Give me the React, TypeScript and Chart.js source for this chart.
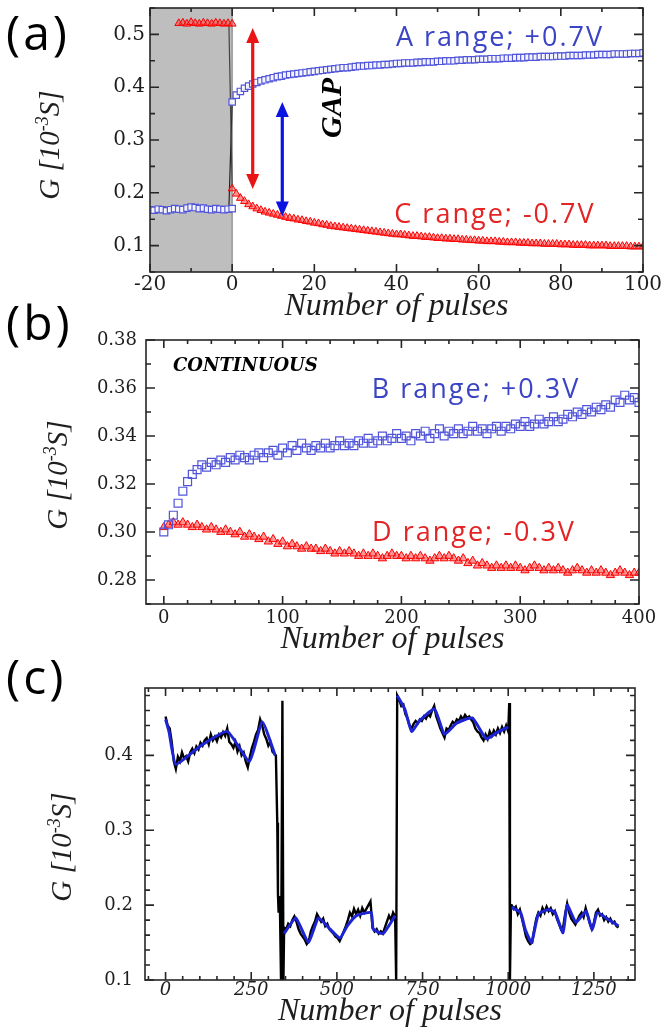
import React, { useEffect, useRef } from 'react';
import { Chart, registerables } from 'chart.js';

Chart.register(...registerables);

// ---------------- Panel (a) data ----------------
const A_BLUE_PRE_START = -20; // pulses -20 .. 0
const A_BLUE_PRE = [0.168, 0.167, 0.169, 0.168, 0.166, 0.168, 0.17, 0.169, 0.168, 0.171, 0.173, 0.172, 0.17, 0.171, 0.169, 0.168, 0.17, 0.169, 0.168, 0.169, 0.17];
const A_RED_PRE_START = -13; // pulses -13 .. 0
const A_RED_PRE = [0.521, 0.522, 0.52, 0.523, 0.521, 0.52, 0.522, 0.521, 0.52, 0.522, 0.521, 0.52, 0.521, 0.52];
const A_POST_START = 0; // pulses 0 .. 100
const A_BLUE = [
  0.372, 0.385, 0.392, 0.398, 0.402, 0.406, 0.409, 0.412, 0.414, 0.416,
  0.418, 0.42, 0.421, 0.423, 0.424, 0.425, 0.426, 0.427, 0.428, 0.429,
  0.43, 0.431, 0.432, 0.433, 0.434, 0.435, 0.436, 0.437, 0.437, 0.438,
  0.439, 0.44, 0.44, 0.441, 0.441, 0.442, 0.442, 0.443, 0.443, 0.444,
  0.445, 0.445, 0.446, 0.446, 0.446, 0.447, 0.447, 0.448, 0.448, 0.448,
  0.449, 0.449, 0.45, 0.45, 0.45, 0.451, 0.451, 0.452, 0.452, 0.452,
  0.453, 0.453, 0.453, 0.454, 0.454, 0.454, 0.455, 0.455, 0.455, 0.456,
  0.456, 0.456, 0.457, 0.457, 0.457, 0.458, 0.458, 0.458, 0.458, 0.459,
  0.459, 0.459, 0.46, 0.46, 0.46, 0.46, 0.461, 0.461, 0.461, 0.462,
  0.462, 0.462, 0.462, 0.463, 0.463, 0.463, 0.463, 0.464, 0.464, 0.464, 0.465,
];
const A_RED = [
  0.208, 0.198, 0.19, 0.184, 0.178, 0.174, 0.17, 0.167, 0.164, 0.162,
  0.16, 0.158, 0.156, 0.154, 0.152, 0.151, 0.149, 0.148, 0.146, 0.145,
  0.143, 0.142, 0.14, 0.139, 0.137, 0.136, 0.135, 0.134, 0.133, 0.132,
  0.131, 0.13, 0.129, 0.128, 0.127, 0.126, 0.125, 0.124, 0.123, 0.122,
  0.121, 0.121, 0.12, 0.119, 0.118, 0.118, 0.117, 0.116, 0.116, 0.115,
  0.114, 0.114, 0.113, 0.113, 0.112, 0.112, 0.111, 0.111, 0.11, 0.11,
  0.109, 0.109, 0.108, 0.108, 0.108, 0.107, 0.107, 0.106, 0.106, 0.106,
  0.105, 0.105, 0.105, 0.104, 0.104, 0.104, 0.103, 0.103, 0.103, 0.103,
  0.102, 0.102, 0.102, 0.101, 0.101, 0.101, 0.101, 0.1, 0.1, 0.1,
  0.1, 0.1, 0.099, 0.099, 0.099, 0.099, 0.099, 0.098, 0.098, 0.098, 0.098,
];
const A_JUMP_RED = [[-0.8, 0.52], [0, 0.21]];
const A_JUMP_BLUE = [[-0.8, 0.17], [0, 0.372]];
const A_X_TICKS = [-20, 0, 20, 40, 60, 80, 100];
const A_Y_TICKS = [0.1, 0.2, 0.3, 0.4, 0.5];

// ---------------- Panel (b) data ----------------
const B_START = 0;
const B_STEP = 4; // pulses 0, 4, ... 400
const B_BLUE = [
  0.3, 0.303, 0.307, 0.312, 0.317, 0.321, 0.324, 0.326, 0.328, 0.327,
  0.329, 0.328, 0.33, 0.329, 0.331, 0.33, 0.332, 0.331, 0.33, 0.332,
  0.333, 0.331, 0.333, 0.334, 0.332, 0.335, 0.333, 0.336, 0.334, 0.337,
  0.335, 0.334, 0.336, 0.335, 0.337, 0.335, 0.336, 0.338, 0.336, 0.337,
  0.336, 0.338, 0.337, 0.339, 0.337, 0.338, 0.34, 0.338, 0.339, 0.341,
  0.339, 0.34, 0.338, 0.341, 0.34, 0.342, 0.339, 0.341, 0.343, 0.34,
  0.342, 0.341, 0.343, 0.341, 0.342, 0.344, 0.342, 0.343, 0.341, 0.343,
  0.344, 0.342, 0.344, 0.343, 0.345, 0.344, 0.346, 0.344, 0.345, 0.347,
  0.345, 0.346, 0.348, 0.346, 0.347, 0.349, 0.348, 0.35, 0.349, 0.351,
  0.35, 0.352, 0.351, 0.353, 0.352, 0.355, 0.354, 0.357, 0.355, 0.356,
  0.354,
];
const B_RED = [
  0.302, 0.303, 0.304, 0.303, 0.304, 0.303, 0.302, 0.303, 0.302, 0.301,
  0.302, 0.301, 0.3, 0.301, 0.3, 0.299, 0.3, 0.298, 0.299, 0.298,
  0.297, 0.298, 0.296, 0.297, 0.295, 0.296, 0.294, 0.295, 0.294, 0.293,
  0.294, 0.293, 0.293, 0.292, 0.293, 0.292, 0.291, 0.292, 0.291, 0.292,
  0.291, 0.29, 0.291, 0.29, 0.291, 0.29, 0.289, 0.29, 0.291, 0.29,
  0.29, 0.289, 0.29, 0.289, 0.29, 0.289, 0.288, 0.289, 0.29, 0.289,
  0.29, 0.289, 0.288, 0.289, 0.287, 0.288, 0.286, 0.287, 0.286, 0.285,
  0.286, 0.285, 0.286, 0.285, 0.286, 0.285, 0.284, 0.285, 0.286, 0.285,
  0.284, 0.285, 0.284, 0.285, 0.284, 0.283, 0.284, 0.285, 0.284, 0.283,
  0.284, 0.283, 0.284, 0.283, 0.282, 0.283, 0.284, 0.283, 0.282, 0.283,
  0.283,
];
const B_X_TICKS = [0, 100, 200, 300, 400];
const B_Y_TICKS = [0.28, 0.3, 0.32, 0.34, 0.36, 0.38];

// ---------------- Panel (c) data ----------------
const C_STEP = 6;
const C_SEG1_START = 0;
const C_SEG1 = [
  0.452, 0.44, 0.436, 0.418, 0.392, 0.382, 0.398, 0.392, 0.404, 0.396,
  0.399, 0.392, 0.404, 0.409, 0.403, 0.412, 0.408, 0.417, 0.413, 0.42,
  0.423, 0.415, 0.428, 0.42, 0.425, 0.419, 0.428, 0.424, 0.431, 0.426,
  0.436, 0.418, 0.415, 0.41, 0.418, 0.405, 0.412, 0.4, 0.404, 0.392,
  0.384, 0.398, 0.41, 0.418, 0.428, 0.434, 0.448, 0.44, 0.428, 0.422,
  0.413, 0.418, 0.405, 0.402,
];
const C_JUMP1 = [[322, 0.4], [326, 0.31], [328, 0.215], [330, 0.19], [332, 0.212], [334, 0.19], [337, 0.1], [341, 0.473], [344, 0.1]];
const C_SEG2_START = 346;
const C_SEG2 = [
  0.17, 0.168, 0.175, 0.172, 0.18, 0.185, 0.178, 0.168, 0.162, 0.158,
  0.154, 0.148, 0.152, 0.165, 0.172, 0.178, 0.188, 0.183, 0.178, 0.182,
  0.172, 0.175, 0.168, 0.165, 0.162, 0.158, 0.156, 0.152, 0.158, 0.165,
  0.172, 0.18, 0.19, 0.185, 0.195, 0.188, 0.194, 0.186, 0.196, 0.19,
  0.195, 0.2, 0.205, 0.17, 0.165, 0.168, 0.162, 0.165, 0.162, 0.17,
  0.178, 0.186, 0.18, 0.19, 0.185,
];
const C_JUMP2 = [[673, 0.1]];
const C_SEG3_START = 676;
const C_SEG3 = [
  0.48, 0.474, 0.466, 0.468, 0.455, 0.45, 0.44, 0.436, 0.442, 0.446,
  0.443, 0.448, 0.446, 0.452, 0.449, 0.455, 0.452, 0.46, 0.466, 0.452,
  0.444, 0.436, 0.43, 0.424, 0.436, 0.434, 0.44, 0.445, 0.442, 0.448,
  0.446, 0.452, 0.448, 0.454, 0.45, 0.452, 0.448, 0.444, 0.436, 0.432,
  0.43, 0.424, 0.42, 0.428, 0.422, 0.432, 0.426, 0.433, 0.428, 0.436,
  0.43, 0.438, 0.432, 0.44, 0.432,
];
const C_JUMP3 = [[1003, 0.47], [1005, 0.1], [1008, 0.2]];
const C_SEG4_START = 1010;
const C_SEG4 = [
  0.2, 0.195, 0.198, 0.188, 0.194, 0.182, 0.17, 0.158, 0.152, 0.148,
  0.15, 0.168, 0.182, 0.19, 0.186, 0.196, 0.19, 0.198, 0.192, 0.196,
  0.188, 0.192, 0.182, 0.175, 0.168, 0.17, 0.188, 0.202, 0.19, 0.182,
  0.178, 0.174, 0.18, 0.186, 0.19, 0.184, 0.196, 0.186, 0.176, 0.168,
  0.176, 0.19, 0.194, 0.186, 0.188, 0.18, 0.184, 0.178, 0.182, 0.176,
  0.178, 0.172, 0.17,
];
const C_FIT1 = [[0, 0.448], [10, 0.432], [30, 0.388], [100, 0.412], [180, 0.432], [245, 0.392], [282, 0.445], [320, 0.4]];
const C_FIT2 = [[346, 0.162], [380, 0.183], [417, 0.15], [446, 0.183], [480, 0.168], [509, 0.156], [530, 0.172], [557, 0.186], [600, 0.19], [606, 0.168], [635, 0.162], [670, 0.186]];
const C_FIT3 = [[676, 0.48], [698, 0.462], [718, 0.432], [741, 0.446], [785, 0.462], [814, 0.428], [849, 0.443], [895, 0.45], [936, 0.422], [965, 0.43], [1000, 0.438]];
const C_FIT4 = [[1010, 0.197], [1036, 0.19], [1050, 0.167], [1068, 0.15], [1088, 0.188], [1117, 0.194], [1137, 0.19], [1160, 0.163], [1172, 0.2], [1198, 0.177], [1227, 0.192], [1245, 0.167], [1260, 0.19], [1295, 0.18], [1322, 0.172]];
const C_X_TICKS = [0, 250, 500, 750, 1000, 1250];
const C_Y_TICKS = [0.1, 0.2, 0.3, 0.4];

const X_TITLE = 'Number of pulses';
const INK = '#1e1e1e';
const BLUE_MARK = 'rgb(80,84,218)';
const RED_MARK = 'rgb(250,0,0)';
const BLUE_TEXT = 'rgb(58,68,196)';
const RED_TEXT = 'rgb(228,36,36)';

type Pt = { x: number; y: number | null };
const seq = (start: number, step: number, vals: number[]): Pt[] => vals.map((v, i) => ({ x: start + i * step, y: v }));
const pairs = (arr: number[][]): Pt[] => arr.map(([x, y]) => ({ x, y }));

function xAxis(min: number, max: number, ticks: number[], font: any, pad: number, height: number, titlePad: number) {
  return {
    type: 'linear', position: 'bottom', min, max,
    grid: { display: false, drawTicks: false }, border: { display: false },
    afterBuildTicks: (s: any) => { s.ticks = ticks.map((v) => ({ value: v })); },
    afterFit: (s: any) => { s.height = height; s.paddingLeft = 0; s.paddingRight = 0; s.paddingTop = 0; s.paddingBottom = 0; },
    ticks: { autoSkip: false, maxRotation: 0, minRotation: 0, padding: pad, font, color: INK, callback: (v: any) => String(v) },
    title: { display: true, text: X_TITLE, color: INK, font: { family: 'Liberation Serif', style: 'italic', size: 32 }, padding: { top: 0, bottom: titlePad } },
  };
}
function yAxis(min: number, max: number, ticks: number[], font: any, pad: number, width: number, digits: number) {
  return {
    type: 'linear', position: 'left', min, max,
    grid: { display: false, drawTicks: false }, border: { display: false },
    afterBuildTicks: (s: any) => { s.ticks = ticks.map((v) => ({ value: v })); },
    afterFit: (s: any) => { s.width = width; s.paddingLeft = 0; s.paddingRight = 0; s.paddingTop = 0; s.paddingBottom = 0; },
    ticks: { autoSkip: false, padding: pad, font, color: INK, callback: (v: any) => Number(v).toFixed(digits) },
    title: { display: false },
  };
}

function framePlugin(xMajor: number, xMinor: number, yMajor: number, yMinor: number) {
  return {
    id: 'frameTicks',
    afterDatasetsDraw(chart: any) {
      const { ctx, chartArea: ca, scales } = chart;
      const sx = scales.x, sy = scales.y;
      ctx.save();
      ctx.strokeStyle = '#262626';
      ctx.lineWidth = 1.6;
      ctx.beginPath();
      const ticks = (s: any, horiz: boolean, step: number, len: number) => {
        const i0 = Math.ceil(s.min / step - 1e-6), i1 = Math.floor(s.max / step + 1e-6);
        for (let i = i0; i <= i1; i++) {
          const p = s.getPixelForValue(i * step);
          if (horiz) { ctx.moveTo(p, ca.bottom); ctx.lineTo(p, ca.bottom - len); ctx.moveTo(p, ca.top); ctx.lineTo(p, ca.top + len); }
          else { ctx.moveTo(ca.left, p); ctx.lineTo(ca.left + len, p); ctx.moveTo(ca.right, p); ctx.lineTo(ca.right - len, p); }
        }
      };
      ticks(sx, true, xMinor, 4); ticks(sx, true, xMajor, 8);
      ticks(sy, false, yMinor, 5); ticks(sy, false, yMajor, 9);
      ctx.stroke();
      ctx.strokeRect(ca.left, ca.top, ca.right - ca.left, ca.bottom - ca.top);
      ctx.restore();
    },
  };
}

function yTitlePlugin(cx: number, cy: number, size: number) {
  return {
    id: 'yTitle',
    afterDraw(chart: any) {
      const ctx = chart.ctx;
      const main = `italic ${size}px "Liberation Serif", serif`;
      const sup = `italic ${Math.round(size * 0.62)}px "Liberation Serif", serif`;
      const parts: [string, string, number][] = [['G [10', main, 0], ['-3', sup, -size * 0.36], ['S]', main, 0]];
      ctx.save();
      let total = 0;
      const widths = parts.map(([t, f]) => { ctx.font = f; const w = ctx.measureText(t).width; total += w; return w; });
      ctx.translate(cx, cy);
      ctx.rotate(-Math.PI / 2);
      ctx.fillStyle = INK;
      ctx.textBaseline = 'alphabetic';
      let x = -total / 2;
      parts.forEach(([t, f, dy], i) => { ctx.font = f; ctx.fillText(t, x, size * 0.33 + dy); x += widths[i]; });
      ctx.restore();
    },
  };
}

type Note = { text: string; x: number; y: number; color: string; font: string; align?: CanvasTextAlign; rotate?: boolean; spacing?: string };
function notesPlugin(notes: Note[]) {
  return {
    id: 'notes',
    afterDraw(chart: any) {
      const ctx = chart.ctx;
      notes.forEach((n) => {
        ctx.save();
        ctx.font = n.font;
        ctx.fillStyle = n.color;
        ctx.textAlign = n.align || 'center';
        ctx.textBaseline = 'middle';
        try { (ctx as any).letterSpacing = n.spacing || '0px'; } catch (e) { /* ignore */ }
        ctx.translate(n.x, n.y);
        if (n.rotate) ctx.rotate(-Math.PI / 2);
        ctx.fillText(n.text, 0, 0);
        ctx.restore();
      });
    },
  };
}

const shadePlugin = {
  id: 'shade',
  beforeDatasetsDraw(chart: any) {
    const { ctx, chartArea: ca, scales } = chart;
    const x0 = scales.x.getPixelForValue(-20), x1 = scales.x.getPixelForValue(0);
    ctx.save();
    ctx.fillStyle = 'rgb(190,190,190)';
    ctx.fillRect(x0, ca.top, x1 - x0, ca.bottom - ca.top);
    ctx.strokeStyle = '#7a7a7a';
    ctx.lineWidth = 1;
    ctx.beginPath(); ctx.moveTo(x1, ca.top); ctx.lineTo(x1, ca.bottom); ctx.stroke();
    ctx.restore();
  },
};

function drawDoubleArrow(ctx: CanvasRenderingContext2D, x: number, yTop: number, yBot: number, color: string) {
  const hw = 6.5, hl = 15;
  ctx.save();
  ctx.strokeStyle = color; ctx.fillStyle = color; ctx.lineWidth = 3.2;
  ctx.beginPath(); ctx.moveTo(x, yTop + hl - 2); ctx.lineTo(x, yBot - hl + 2); ctx.stroke();
  ctx.beginPath(); ctx.moveTo(x, yTop); ctx.lineTo(x - hw, yTop + hl); ctx.lineTo(x + hw, yTop + hl); ctx.closePath(); ctx.fill();
  ctx.beginPath(); ctx.moveTo(x, yBot); ctx.lineTo(x - hw, yBot - hl); ctx.lineTo(x + hw, yBot - hl); ctx.closePath(); ctx.fill();
  ctx.restore();
}
const arrowsPlugin = {
  id: 'arrows',
  afterDatasetsDraw(chart: any) {
    const { ctx, scales: { x, y } } = chart;
    drawDoubleArrow(ctx, x.getPixelForValue(5), y.getPixelForValue(0.512), y.getPixelForValue(0.207), 'rgb(235,20,20)');
    drawDoubleArrow(ctx, x.getPixelForValue(12.2), y.getPixelForValue(0.372), y.getPixelForValue(0.155), 'rgb(10,20,225)');
  },
};

const baseOptions = (padding: any, scales: any) => ({
  responsive: false,
  animation: false,
  layout: { padding },
  plugins: { legend: { display: false }, tooltip: { enabled: false } },
  scales,
});

function squares(data: Pt[], r: number, fill: string) {
  return { data, showLine: false, pointStyle: 'rect', pointRadius: r, pointBorderColor: BLUE_MARK, pointBackgroundColor: fill, pointBorderWidth: 1.2 };
}
function triangles(data: Pt[], r: number) {
  return { data, showLine: false, pointStyle: 'triangle', pointRadius: r, pointBorderColor: RED_MARK, pointBackgroundColor: 'rgba(255,60,60,0.55)', pointBorderWidth: 1 };
}
function line(data: Pt[], color: string, width: number, tension = 0) {
  return { data, showLine: true, pointRadius: 0, borderColor: color, borderWidth: width, tension, fill: false, spanGaps: false };
}

export default function App() {
  const refA = useRef<HTMLCanvasElement>(null);
  const refB = useRef<HTMLCanvasElement>(null);
  const refC = useRef<HTMLCanvasElement>(null);

  useEffect(() => {
    const serif = (size: number, style = 'normal') => ({ family: 'DejaVu Serif', size, style });

    const chartA = new Chart(refA.current as HTMLCanvasElement, {
      type: 'scatter',
      data: {
        datasets: [
          squares(seq(A_POST_START, 1, A_BLUE), 4.5, 'rgba(255,255,255,0.9)'),
          squares(seq(A_BLUE_PRE_START, 1, A_BLUE_PRE), 4.5, 'rgba(255,255,255,0.9)'),
          triangles(seq(A_POST_START, 1, A_RED), 4.5),
          triangles(seq(A_RED_PRE_START, 1, A_RED_PRE), 4.5),
          line(pairs(A_JUMP_RED), '#444', 1.2),
          line(pairs(A_JUMP_BLUE), '#222', 1.2),
        ] as any,
      },
      options: baseOptions({ left: 0, right: 24, top: 8, bottom: 0 }, {
        x: xAxis(-20, 100, A_X_TICKS, serif(20), 1, 58, 4),
        y: yAxis(0.05, 0.55, A_Y_TICKS, serif(20), 5, 150, 1),
      }) as any,
      plugins: [
        shadePlugin, arrowsPlugin, framePlugin(20, 10, 0.1, 0.05), yTitlePlugin(49, 145, 29),
        notesPlugin([
          { text: 'A range; +0.7V', x: 500, y: 38, color: BLUE_TEXT, font: '27px "Open Sans", sans-serif', spacing: '2px' },
          { text: 'C range; -0.7V', x: 495, y: 215, color: RED_TEXT, font: '27px "Open Sans", sans-serif', spacing: '2px' },
          { text: 'GAP', x: 333, y: 108, color: '#000', font: 'italic bold 30px "Liberation Serif", serif', rotate: true },
        ]),
      ] as any,
    });

    const chartB = new Chart(refB.current as HTMLCanvasElement, {
      type: 'scatter',
      data: {
        datasets: [
          squares(seq(B_START, B_STEP, B_BLUE), 5.6, 'rgba(255,255,255,0)'),
          triangles(seq(B_START, B_STEP, B_RED), 4.8),
        ] as any,
      },
      options: baseOptions({ left: 0, right: 28, top: 10, bottom: 0 }, {
        x: xAxis(-15, 400, B_X_TICKS, serif(18), 4, 61, 6),
        y: yAxis(0.27, 0.38, B_Y_TICKS, serif(18), 9, 146, 2),
      }) as any,
      plugins: [
        framePlugin(100, 20, 0.02, 0.01), yTitlePlugin(57, 145, 29),
        notesPlugin([
          { text: 'CONTINUOUS', x: 173, y: 36, color: '#000', font: 'italic bold 18px "DejaVu Serif", serif', align: 'left' },
          { text: 'B range; +0.3V', x: 476, y: 60, color: BLUE_TEXT, font: '27px "Open Sans", sans-serif', spacing: '2px' },
          { text: 'D range; -0.3V', x: 474, y: 203, color: RED_TEXT, font: '27px "Open Sans", sans-serif', spacing: '2px' },
        ]),
      ] as any,
    });

    const black: Pt[] = [
      ...seq(C_SEG1_START, C_STEP, C_SEG1),
      ...pairs(C_JUMP1),
      ...seq(C_SEG2_START, C_STEP, C_SEG2),
      ...pairs(C_JUMP2),
      ...seq(C_SEG3_START, C_STEP, C_SEG3),
      ...pairs(C_JUMP3),
      ...seq(C_SEG4_START, C_STEP, C_SEG4),
    ];
    const fit: Pt[] = [
      ...pairs(C_FIT1), { x: 333, y: null },
      ...pairs(C_FIT2), { x: 673, y: null },
      ...pairs(C_FIT3), { x: 1005, y: null },
      ...pairs(C_FIT4),
    ];
    const chartC = new Chart(refC.current as HTMLCanvasElement, {
      type: 'scatter',
      data: {
        datasets: [
          line(fit, 'rgb(28,36,212)', 3, 0.15),
          line(black, '#000', 2.4),
        ] as any,
      },
      options: baseOptions({ left: 0, right: 32, top: 23, bottom: 0 }, {
        x: xAxis(-60, 1370, C_X_TICKS, serif(18, 'italic'), 0, 53, 2),
        y: yAxis(0.1, 0.49, C_Y_TICKS, serif(18), 12, 145, 1),
      }) as any,
      plugins: [framePlugin(250, 50, 0.1, 0.02), yTitlePlugin(61, 182, 29)] as any,
    });

    return () => { chartA.destroy(); chartB.destroy(); chartC.destroy(); };
  }, []);

  const panelLabel = (top: number): React.CSSProperties => ({
    position: 'absolute', left: 6, top, fontFamily: '"Open Sans", sans-serif', fontSize: 48, lineHeight: '48px', letterSpacing: 3, color: '#000',
  });

  return (
    <div style={{ position: 'absolute', left: 0, top: 0, width: 667, height: 1033, background: '#fff', overflow: 'hidden' }}>
      <canvas ref={refA} width={667} height={330} style={{ position: 'absolute', left: 0, top: 0 }} />
      <canvas ref={refB} width={667} height={335} style={{ position: 'absolute', left: 0, top: 330 }} />
      <canvas ref={refC} width={667} height={368} style={{ position: 'absolute', left: 0, top: 665 }} />
      <div style={panelLabel(8)}>(a)</div>
      <div style={panelLabel(298)}>(b)</div>
      <div style={panelLabel(652)}>(c)</div>
    </div>
  );
}
